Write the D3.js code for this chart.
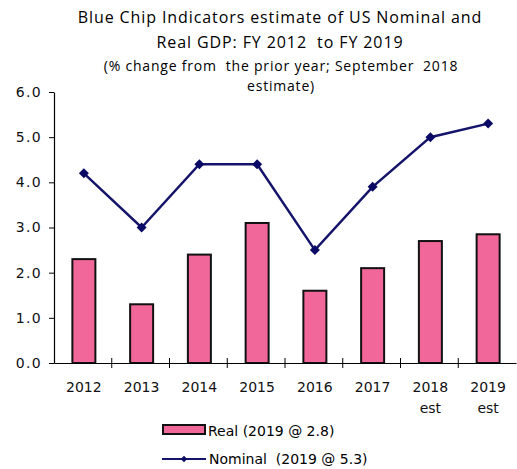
<!DOCTYPE html>
<html>
<head>
<meta charset="utf-8">
<script src="https://cdn.jsdelivr.net/npm/d3@7"></script>
<style>
  body { margin: 0; background: #fff; }
  text { font-family: "DejaVu Sans", Verdana, sans-serif; white-space: pre; }
</style>
</head>
<body>
<svg id="chart"></svg>
<script>
const width = 517;
const height = 469;

const years = ['2012', '2013', '2014', '2015', '2016', '2017', '2018', '2019'];
const yearSub = ['', '', '', '', '', '', 'est', 'est'];
const real = [2.3, 1.3, 2.4, 3.1, 1.6, 2.1, 2.7, 2.85];
const nominal = [4.2, 3.0, 4.4, 4.4, 2.5, 3.9, 5.0, 5.3];
const yTicks = [0, 1, 2, 3, 4, 5, 6];
const titleLines = ['Blue Chip Indicators estimate of US Nominal and', 'Real GDP: FY 2012  to FY 2019'];
const subLines = ['(% change from  the prior year; September  2018', 'estimate)'];

const plotLeft = 54, plotRight = 516, plotTop = 92, plotBottom = 363;

const svg = d3.select('#chart').attr('width', width).attr('height', height);

const x = d3.scaleBand().domain(years).range([plotLeft, plotRight]);
const y = d3.scaleLinear().domain([0, 6]).range([plotBottom, plotTop]);

// titles
svg.append('g').selectAll('text').data(titleLines).enter().append('text')
  .attr('x', 280).attr('y', (d, i) => 23 + i * 25)
  .attr('text-anchor', 'middle')
  .style('font-family', '"Open Sans", sans-serif')
  .style('font-size', '16px')
  .style('letter-spacing', '0.9px')
  .text(d => d);

svg.append('g').selectAll('text').data(subLines).enter().append('text')
  .attr('x', 281).attr('y', (d, i) => 71 + i * 20)
  .attr('text-anchor', 'middle')
  .style('font-family', '"Open Sans", sans-serif')
  .style('font-size', '14px')
  .style('letter-spacing', '0.8px')
  .text(d => d);

// bars
const bw = 23;
svg.append('g').selectAll('rect').data(real).enter().append('rect')
  .attr('x', (d, i) => x(years[i]) + x.bandwidth() / 2 - bw / 2 + 1)
  .attr('y', d => y(d))
  .attr('width', bw)
  .attr('height', d => plotBottom - y(d))
  .attr('fill', '#f2679a')
  .attr('stroke', '#111')
  .attr('stroke-width', 2);

// axes
const yAxis = svg.append('g').attr('transform', `translate(${plotLeft},0)`)
  .call(d3.axisLeft(y).tickValues(yTicks).tickFormat(d3.format('.1f')).tickSizeInner(5).tickSizeOuter(0));
yAxis.selectAll('.tick text').attr('x', -12).style('font-size', '14px')
  .style('letter-spacing', '1.3px').attr('fill', '#111');

const xAxis = svg.append('g').attr('transform', `translate(0,${plotBottom})`)
  .call(d3.axisBottom(x).tickSizeInner(0).tickSizeOuter(0));
xAxis.selectAll('.tick').remove();
xAxis.selectAll('line.sep').data(years.slice(1)).enter().append('line')
  .attr('class', 'sep')
  .attr('x1', d => x(d)).attr('x2', d => x(d))
  .attr('y1', -5).attr('y2', 5)
  .attr('stroke', '#000');
xAxis.selectAll('text.yr').data(years).enter().append('text')
  .attr('class', 'yr')
  .attr('x', d => x(d) + x.bandwidth() / 2 + 1)
  .attr('y', 29)
  .attr('text-anchor', 'middle')
  .attr('fill', '#111')
  .style('font-size', '14px')
  .text(d => d);
xAxis.selectAll('text.est').data(yearSub).enter().append('text')
  .attr('class', 'est')
  .attr('x', (d, i) => x(years[i]) + x.bandwidth() / 2 + 1)
  .attr('y', 50)
  .attr('text-anchor', 'middle')
  .attr('fill', '#111')
  .style('font-size', '14px')
  .text(d => d);
svg.selectAll('.domain').attr('stroke', '#000').attr('stroke-width', 1.2);

// nominal line
const line = d3.line()
  .x((d, i) => x(years[i]) + x.bandwidth() / 2 + 1)
  .y(d => y(d));
svg.append('path').datum(nominal)
  .attr('fill', 'none')
  .attr('stroke', '#14146b')
  .attr('stroke-width', 2.5)
  .attr('d', line);
// square turned 45 degrees -> even diamond like the excel marker
const diamond = d3.symbol().type(d3.symbolSquare).size(50);
svg.append('g').selectAll('path').data(nominal).enter().append('path')
  .attr('transform', (d, i) => `translate(${x(years[i]) + x.bandwidth() / 2 + 1},${y(d)}) rotate(45)`)
  .attr('d', diamond)
  .attr('fill', '#0a0a66');

// legend
const lg = svg.append('g');
lg.append('rect').attr('x', 163).attr('y', 425).attr('width', 42).attr('height', 9)
  .attr('fill', '#f2679a').attr('stroke', '#111').attr('stroke-width', 2);
lg.append('text').attr('x', 208).attr('y', 436)
  .style('font-size', '14px')
  .text('Real (2019 @ 2.8)');
lg.append('line').attr('x1', 162).attr('x2', 206).attr('y1', 459).attr('y2', 459)
  .attr('stroke', '#14146b').attr('stroke-width', 2);
lg.append('path').attr('transform', 'translate(184,459) rotate(45)')
  .attr('d', d3.symbol().type(d3.symbolSquare).size(20)).attr('fill', '#0a0a66');
lg.append('text').attr('x', 209).attr('y', 464)
  .style('font-size', '14px')
  .text('Nominal  (2019 @ 5.3)');
</script>
</body>
</html>
